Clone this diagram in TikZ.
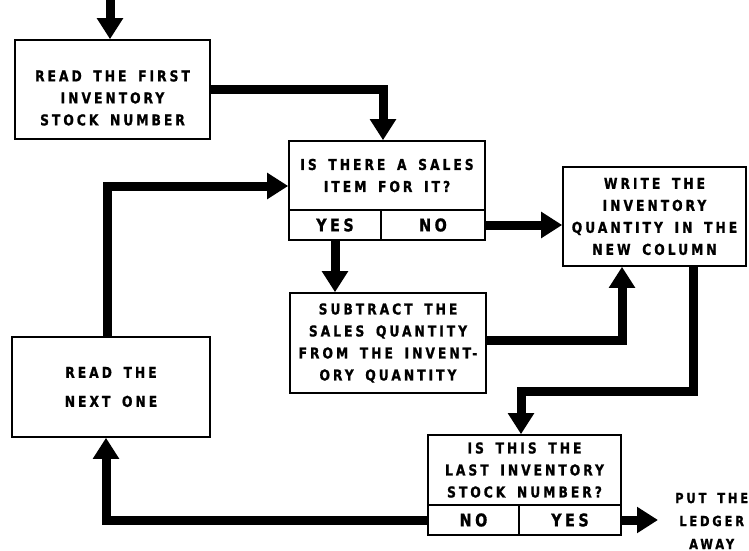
\documentclass[tikz,border=0pt]{standalone}
\usepackage{fontspec}
\usetikzlibrary{arrows.meta,calc}
\newfontfamily\lbl{DejaVu Sans}[FakeStretch=0.82, LetterSpace=20, WordSpace=1.6, FakeBold=1]
\begin{document}
\begin{tikzpicture}[x=1pt,y=-1pt,
  box/.style={draw, line width=1.6pt, inner sep=0pt, align=center,
    font=\lbl\bfseries\fontsize{15}{22}\selectfont},
  ans/.style={box, font=\lbl\bfseries\fontsize{17.5}{20}\selectfont},
  flow/.style={line width=9pt, line join=miter,
    -{Triangle[length=21pt,width=25pt]}}]
\useasboundingbox (0,0) rectangle (749,551);

% process and decision boxes
\node[box, minimum width=195pt, minimum height=99pt] (b1) at (112.5,89.5)
  {\mbox{}\\[6pt]READ THE FIRST\\INVENTORY\\STOCK NUMBER};
\node[box, minimum width=196pt, minimum height=69pt] (b2q) at (387,175.5)
  {IS THERE A SALES\\ITEM FOR IT?};
\node[ans, minimum width=92pt, minimum height=30pt] (yes2) at (335,225) {YES};
\node[ans, minimum width=104pt, minimum height=30pt] (no2) at (433,225) {NO};
\node[box, minimum width=183pt, minimum height=99pt] (b3) at (654.5,216.5)
  {WRITE THE\\INVENTORY\\QUANTITY IN THE\\NEW COLUMN};
\node[box, minimum width=196pt, minimum height=100pt] (b4) at (388,343)
  {SUBTRACT THE\\SALES QUANTITY\\FROM THE INVENT-\\ORY QUANTITY};
\node[box, minimum width=198pt, minimum height=100pt] (b5) at (111,387)
  {READ THE\\[7pt]NEXT ONE};
\node[box, minimum width=193pt, minimum height=70pt] (b6q) at (524.5,470)
  {IS THIS THE\\LAST INVENTORY\\STOCK NUMBER?};
\node[ans, minimum width=91pt, minimum height=30pt] (no6) at (473.5,520) {NO};
\node[ans, minimum width=102pt, minimum height=30pt] (yes6) at (570,520) {YES};
\node[align=center, anchor=west, inner xsep=17pt, inner ysep=0pt,
  font=\lbl\bfseries\fontsize{14}{23}\selectfont] (put) at (658,521)
  {PUT THE\\LEDGER\\AWAY};

\coordinate (start) at (110,0);

% connectors
\draw[flow] (start) -- (start |- b1.north);
\draw[flow] (b1.east) -| ($(b2q.north)+(-4,0)$);
\draw[flow] ($(b5.north)+(-4,0)$) |- ($(b2q.west)+(0,10.5)$);
\draw[flow] (no2.east) -- (no2.east -| b3.west);
\draw[flow] (yes2.south) -- (yes2.south |- b4.north);
\draw[flow] ($(b4.east)+(0,-3)$) -| ($(b3.south)+(-32.5,0)$);
\draw[flow] ($(b3.south)+(38.5,0)$) -- ++(0,125) -| ($(b6q.north)+(-3.5,0)$);
\draw[flow] (no6.west) -| ($(b5.south)+(-5,0)$);
\draw[flow] (yes6.east) -- (yes6.east -| put.west);
\end{tikzpicture}
\end{document}
